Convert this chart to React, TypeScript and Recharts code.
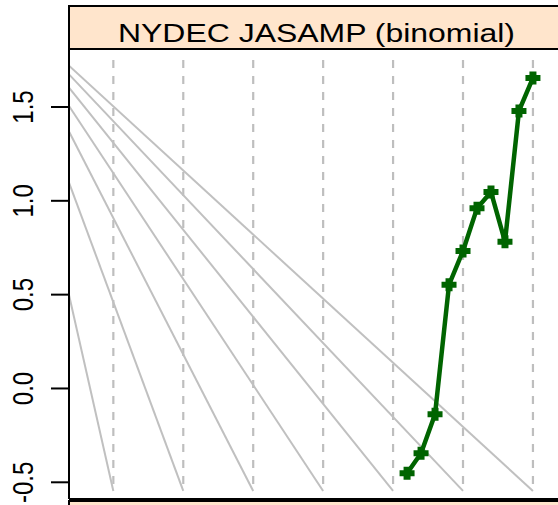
import React from "react";
import { ComposedChart, Line, XAxis, YAxis } from "recharts";

// green series (one point per year)
const years = [1991, 1992, 1993, 1994, 1995, 1996, 1997, 1998, 1999, 2000];
const estimates = [-0.452, -0.345, -0.137, 0.553, 0.733, 0.96, 1.047, 0.782, 1.479, 1.655];

// dashed reference years and the grey guide lines ending at them
const refYears = [1970, 1975, 1980, 1985, 1990, 1995, 2000];
const guideStart = [0.498, 1.097, 1.369, 1.505, 1.603, 1.674, 1.72];
const guideEnd = -0.546;
const dashTop = 1.751;

const yTicks = [-0.5, 0, 0.5, 1, 1.5];
const xDomain = [1966.83, 2002.22];
const yDomain = [-0.589, 1.809];

const title = "NYDEC JASAMP (binomial)";
const font = "'Liberation Sans', Arial, sans-serif";

const green = years.map((x, i) => ({ x, y: estimates[i] }));

const YTick = (props: any) => {
  const { x, y, payload } = props;
  return (
    <g transform={`translate(${x - 18},${y}) scale(1.26,1) rotate(-90)`}>
      <text x={0} y={0} textAnchor="middle" fontSize={24} fontFamily={font} fill="#000">
        {Number(payload.value).toFixed(1)}
      </text>
    </g>
  );
};

const Cross = (props: any) => {
  const { cx, cy } = props;
  if (cx == null || cy == null) return null;
  return (
    <path
      d={`M${cx - 7.5},${cy - 3}h4v-3.5h7v3.5h4v6h-4v3.5h-7v-3.5h-4z`}
      fill="#006400"
    />
  );
};

export default function App() {
  return (
    <div style={{ position: "absolute", left: 0, top: 0, width: 558, height: 505, overflow: "hidden", background: "#fff" }}>
      <ComposedChart width={566} height={505} margin={{ top: 49, right: 2, bottom: 0, left: 0 }}>
        <XAxis
          dataKey="x"
          type="number"
          domain={xDomain}
          allowDataOverflow
          height={6}
          tick={false}
          tickLine={false}
          axisLine={{ stroke: "#000", strokeWidth: 2 }}
        />
        <YAxis
          type="number"
          domain={yDomain}
          allowDataOverflow
          ticks={yTicks}
          width={69}
          tickSize={18}
          tickMargin={0}
          tick={<YTick />}
          tickLine={{ stroke: "#000", strokeWidth: 2 }}
          axisLine={{ stroke: "#000", strokeWidth: 2 }}
        />
        {refYears.map((yr) => (
          <Line
            key={`dash-${yr}`}
            data={[{ x: yr, y: dashTop }, { x: yr, y: guideEnd }]}
            dataKey="y"
            stroke="#bebebe"
            strokeWidth={2.2}
            strokeDasharray="8 8"
            dot={false}
            activeDot={false}
            isAnimationActive={false}
          />
        ))}
        {refYears.map((yr, i) => (
          <Line
            key={`guide-${yr}`}
            data={[{ x: xDomain[0], y: guideStart[i] }, { x: yr, y: guideEnd }]}
            dataKey="y"
            stroke="#c0c0c0"
            strokeWidth={2}
            dot={false}
            activeDot={false}
            isAnimationActive={false}
          />
        ))}
        <Line
          data={green}
          dataKey="y"
          stroke="#006400"
          strokeWidth={4.5}
          dot={<Cross />}
          activeDot={false}
          isAnimationActive={false}
        />
      </ComposedChart>
      <svg width={558} height={505} style={{ position: "absolute", left: 0, top: 0, pointerEvents: "none" }}>
        <rect x={69} y={6} width={495} height={43} fill="#ffe5cc" stroke="#000" strokeWidth={2} />
        <text x={118} y={42} fontSize={26.5} fontFamily={font} fill="#000" textLength={397} lengthAdjust="spacingAndGlyphs">
          {title}
        </text>
        <rect x={69} y={501} width={495} height={20} fill="#ffe5cc" stroke="#000" strokeWidth={2} />
      </svg>
    </div>
  );
}
